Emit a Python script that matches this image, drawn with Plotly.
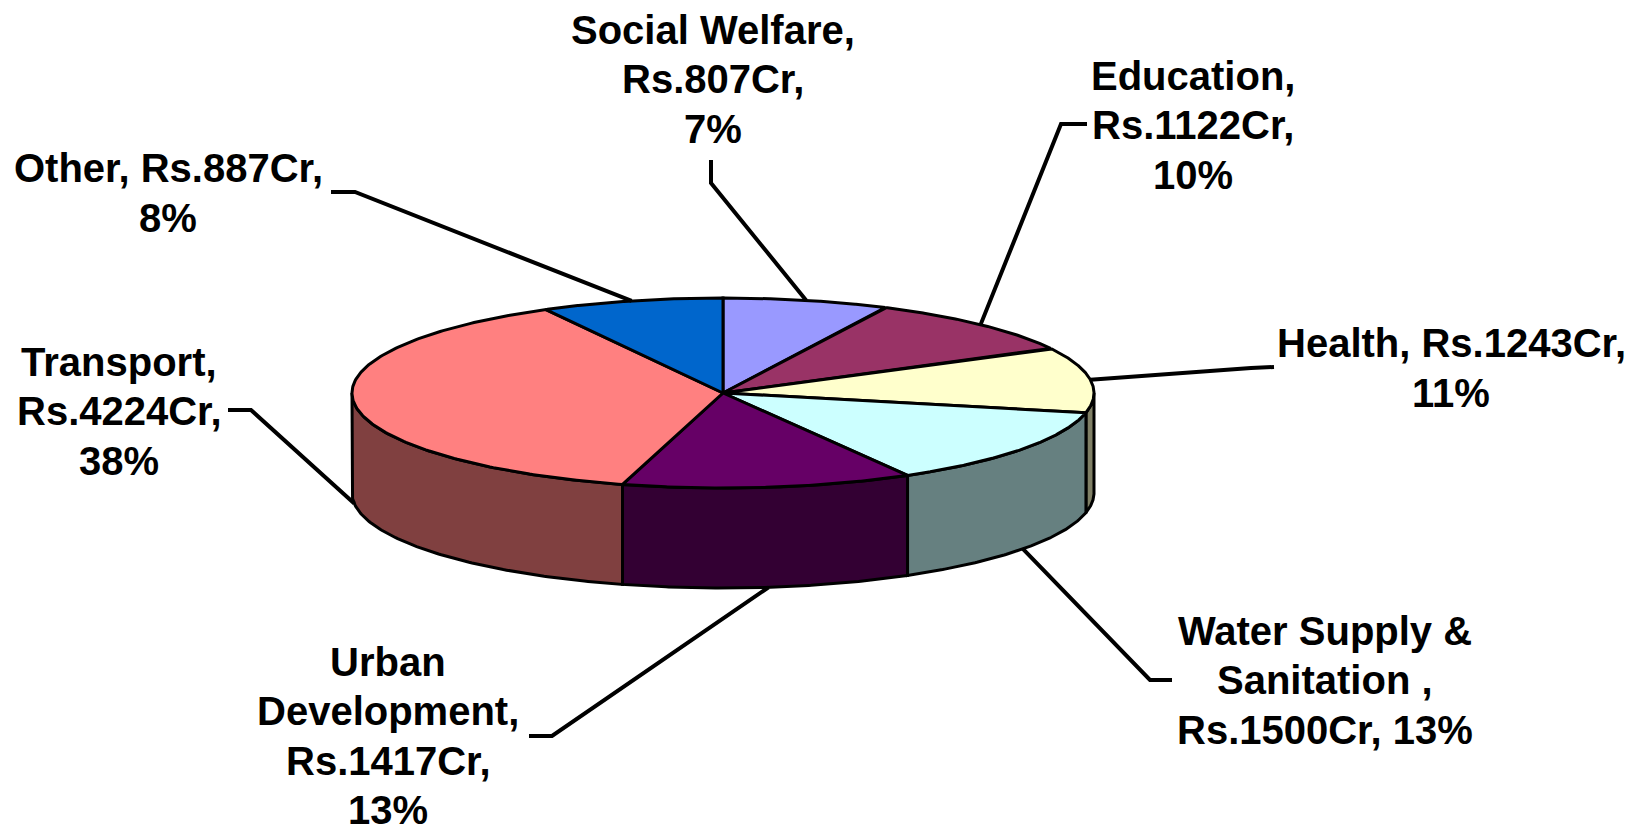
import numpy as np
import plotly.graph_objects as go

# ---------------- data ----------------
categories = ["Social Welfare", "Education", "Health", "Water Supply & Sanitation ",
              "Urban Development", "Transport", "Other"]
values = [807, 1122, 1243, 1500, 1417, 4224, 887]
label_names = ["Social Welfare", "Education", "Health", "Water Supply &<br>Sanitation ",
               "Urban<br>Development", "Transport", "Other"]
label_formats = ["{n},<br>Rs.{v}Cr,<br>{p}%",
                 "{n},<br>Rs.{v}Cr,<br>{p}%",
                 "{n}, Rs.{v}Cr,<br>{p}%",
                 "{n},<br>Rs.{v}Cr, {p}%",
                 "{n},<br>Rs.{v}Cr,<br>{p}%",
                 "{n},<br>Rs.{v}Cr,<br>{p}%",
                 "{n}, Rs.{v}Cr,<br>{p}%"]
top_colors = ["#9999FF", "#993366", "#FFFFCC", "#CCFFFF", "#660066", "#FF8080", "#0066CC"]

# ---------------- layout / styling ----------------
W, H = 1645, 829
CX, CY, RX, RY, DEPTH = 723, 393, 371, 95, 100
LINE_STEP = 49.5
label_pos = [(713, 79), (1193, 125), (1451, 368), (1325, 680),
             (388, 736), (119, 411), (168, 193)]
# leader polylines: (text end point, elbow point) - the anchor on the pie is derived from data
leader_pts = [((711, 160), (711, 183)),
              ((1087, 124), (1061, 124)),
              ((1274, 367), (1251, 368)),
              ((1172, 680), (1150, 680)),
              ((529, 736), (552, 736)),
              ((228, 410), (251, 410)),
              ((331, 192), (355, 192))]
FONT = dict(family="Liberation Sans, Arial, sans-serif", size=40, color="black", weight="bold")


def darken(hexcol):
    r, g, b = int(hexcol[1:3], 16), int(hexcol[3:5], 16), int(hexcol[5:7], 16)
    return "#{:02X}{:02X}{:02X}".format((r + 1) // 2, (g + 1) // 2, (b + 1) // 2)


def pt(theta_deg, dy=0.0):
    t = np.radians(theta_deg)
    return CX + RX * np.sin(t), CY - RY * np.cos(t) + dy


total = sum(values)
fracs = [v / total for v in values]
bounds = np.concatenate([[0], np.cumsum(fracs) * 360.0])

fig = go.Figure()

# sides (front half only, 90..270 deg clockwise from top)
for i in range(len(values)):
    a0, a1 = bounds[i], bounds[i + 1]
    lo, hi = max(a0, 90.0), min(a1, 270.0)
    if lo < hi:
        ts = np.linspace(lo, hi, 120)
        xt, yt = pt(ts)
        xb, yb = pt(ts[::-1], DEPTH)
        xs = np.concatenate([xt, xb, xt[:1]])
        ys = np.concatenate([yt, yb, yt[:1]])
        fig.add_trace(go.Scatter(x=xs, y=ys, mode="lines", fill="toself",
                                 fillcolor=darken(top_colors[i]),
                                 line=dict(color="black", width=3),
                                 hoverinfo="skip", showlegend=False))

# top faces
for i in range(len(values)):
    a0, a1 = bounds[i], bounds[i + 1]
    ts = np.linspace(a0, a1, 200)
    xa, ya = pt(ts)
    xs = np.concatenate([[CX], xa, [CX]])
    ys = np.concatenate([[CY], ya, [CY]])
    fig.add_trace(go.Scatter(x=xs, y=ys, mode="lines", fill="toself",
                             fillcolor=top_colors[i],
                             line=dict(color="black", width=3),
                             hoverinfo="skip", showlegend=False))

# leader lines and labels
for i in range(len(values)):
    mid = (bounds[i] + bounds[i + 1]) / 2
    front = np.cos(np.radians(mid)) < 0
    ax, ay = pt(mid, DEPTH if front else 0.0)
    (tx, ty), (ex, ey) = leader_pts[i]
    fig.add_trace(go.Scatter(x=[tx, ex, ax], y=[ty, ey, ay], mode="lines",
                             line=dict(color="black", width=4),
                             hoverinfo="skip", showlegend=False))
    pct = int(round(fracs[i] * 100))
    text = label_formats[i].format(n=label_names[i], v=values[i], p=pct)
    lines = text.split("<br>")
    lx, ly = label_pos[i]
    n = len(lines)
    for k, line in enumerate(lines):
        fig.add_annotation(x=lx, y=ly + (k - (n - 1) / 2) * LINE_STEP, text=line,
                           showarrow=False, font=FONT,
                           xanchor="center", yanchor="middle", align="center")

fig.update_layout(
    width=W, height=H, margin=dict(l=0, r=0, t=0, b=0),
    paper_bgcolor="white", plot_bgcolor="white",
    xaxis=dict(range=[0, W], visible=False, fixedrange=True),
    yaxis=dict(range=[H, 0], visible=False, fixedrange=True),
    showlegend=False,
)

fig.write_html("out.html", config={"displayModeBar": False},
               post_script="document.body.style.margin='0';document.body.style.overflow='hidden';")
